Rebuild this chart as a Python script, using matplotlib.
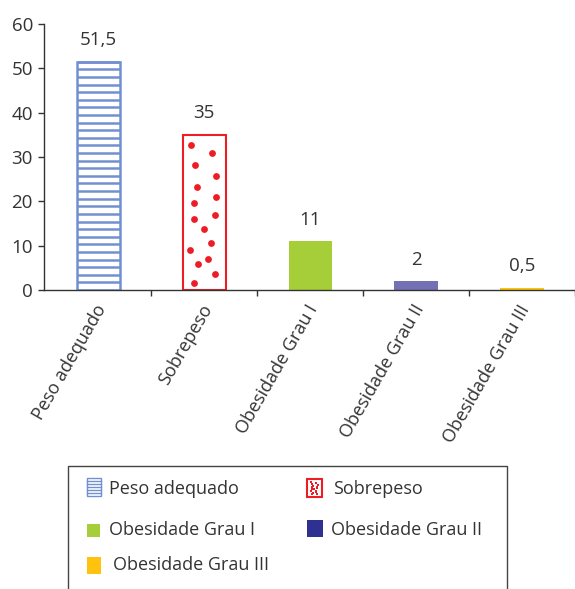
import numpy as np
import matplotlib
matplotlib.use("Agg")
import matplotlib.pyplot as plt
from matplotlib.patches import Rectangle

plt.rcParams['font.family'] = ['Open Sans', 'DejaVu Sans']

categories = ["Peso adequado", "Sobrepeso", "Obesidade Grau I",
              "Obesidade Grau II", "Obesidade Grau III"]
values = [51.5, 35, 11, 2, 0.5]
value_labels = ["51,5", "35", "11", "2", "0,5"]
y_ticks = [0, 10, 20, 30, 40, 50, 60]

legend_labels = ["Peso adequado", "Sobrepeso", "Obesidade Grau I",
                 "Obesidade Grau II", "Obesidade Grau III"]

BLUE = "#7190d0"
RED = "#ee1c25"
GREEN = "#a6ce39"
PURPLE = "#7470b4"
NAVY = "#2e3192"
YELLOW = "#ffc20e"
TEXT = "#333333"

# dot pattern used to fill the "Sobrepeso" bar (fractions of bar width / height)
dot_pattern_x = [0.185, 0.674, 0.289, 0.778, 0.333, 0.770, 0.259, 0.741,
                 0.267, 0.496, 0.644, 0.178, 0.593, 0.348, 0.741, 0.267]
dot_pattern_y = [0.936, 0.885, 0.803, 0.733, 0.662, 0.598, 0.560, 0.483,
                 0.455, 0.393, 0.303, 0.259, 0.201, 0.167, 0.103, 0.047]

W, H = 575, 589
fig = plt.figure(figsize=(W / 100, H / 100), dpi=100)

left_px, right_px, top_px, zero_px = 44, 575, 24, 290
first_edge_px = 45.5
cat_px = 108.3
ax = fig.add_axes([left_px / W, 1 - zero_px / H,
                   (right_px - left_px) / W, (zero_px - top_px) / H])

x = np.arange(len(categories))
bar_w = 0.41
bars = ax.bar(x, values, width=bar_w, zorder=2)

# Peso adequado: outlined bar with horizontal lines
b0 = bars[0]
b0.set_facecolor("white")
b0.set_edgecolor(BLUE)
b0.set_linewidth(1.8)
step = 1.716
for yy in np.arange(step, values[0], step):
    ax.plot([b0.get_x(), b0.get_x() + b0.get_width()], [yy, yy],
            color=BLUE, lw=1.8, zorder=3, solid_capstyle="butt")

# Sobrepeso: outlined bar with red dots
b1 = bars[1]
b1.set_facecolor("white")
b1.set_edgecolor(RED)
b1.set_linewidth(1.5)
dx = b1.get_x() + np.array(dot_pattern_x) * b1.get_width()
dy = np.array(dot_pattern_y) * values[1]
ax.scatter(dx, dy, s=24, color=RED, zorder=3, linewidths=0)

for b, c in zip(bars[2:], [GREEN, PURPLE, YELLOW]):
    b.set_facecolor(c)
    b.set_edgecolor("none")

for xi, v, lab in zip(x, values, value_labels):
    ax.annotate(lab, (xi, v), xytext=(0, 15.5), textcoords="offset points",
                ha="center", va="center", fontsize=13.5, color=TEXT)

x_lo = -0.5 - (first_edge_px - left_px) / cat_px
ax.set_ylim(0, 60)
ax.set_xlim(x_lo, x_lo + (right_px - left_px) / cat_px)
ax.set_yticks(y_ticks)
ax.set_yticklabels([str(t) for t in y_ticks], fontsize=13.5, color=TEXT)
ax.tick_params(axis="y", direction="out", length=4, width=1, color="#333333", pad=4)

ax.set_xticks(np.arange(len(categories)) + 0.5)
ax.set_xticklabels([])
ax.tick_params(axis="x", direction="out", length=4, width=1, color="#333333")
for xi, lab in zip(x, categories):
    ax.text(xi - 0.04, -2.6, lab, rotation=60, rotation_mode="anchor",
            ha="right", va="top", fontsize=13, color=TEXT)

for s in ["top", "right"]:
    ax.spines[s].set_visible(False)
for s in ["left", "bottom"]:
    ax.spines[s].set_color("#333333")
    ax.spines[s].set_linewidth(1)

# legend panel
def fx(px):
    return px / W


def fy(py):
    return 1 - py / H


fig.patches.append(Rectangle((fx(68), fy(600)), fx(507) - fx(68), fy(466) - fy(600),
                             transform=fig.transFigure, facecolor="white",
                             edgecolor="#444444", lw=1.0))

# handle: lined box
hx0, hx1, hy0, hy1 = 87, 101, 478, 496
fig.patches.append(Rectangle((fx(hx0), fy(hy1)), fx(hx1) - fx(hx0), fy(hy0) - fy(hy1),
                             transform=fig.transFigure, facecolor="white",
                             edgecolor=BLUE, lw=1.0))
for py in np.arange(hy0 + 3, hy1, 3):
    fig.lines.append(plt.Line2D([fx(hx0), fx(hx1)], [fy(py), fy(py)],
                                transform=fig.transFigure, color=BLUE, lw=1.0))

# handle: dotted box
sx0, sx1, sy0, sy1 = 307, 322, 479, 497
fig.patches.append(Rectangle((fx(sx0), fy(sy1)), fx(sx1) - fx(sx0), fy(sy0) - fy(sy1),
                             transform=fig.transFigure, facecolor="white",
                             edgecolor=RED, lw=1.5))
hdx = [fx(sx0 + 2 + px * (sx1 - sx0 - 4)) for px in dot_pattern_x]
hdy = [fy(sy1 - 2 - py * (sy1 - sy0 - 4)) for py in dot_pattern_y]
fig.lines.append(plt.Line2D(hdx, hdy, transform=fig.transFigure, ls="none",
                            marker="s", ms=1.6, color=RED, mew=0))

# solid handles
for (x0, x1, y0, y1), c in [((87, 100, 524, 537), GREEN),
                            ((307, 323, 520, 537), NAVY),
                            ((87, 101, 557, 574), YELLOW)]:
    fig.patches.append(Rectangle((fx(x0), fy(y1)), fx(x1) - fx(x0), fy(y0) - fy(y1),
                                 transform=fig.transFigure, facecolor=c,
                                 edgecolor="none"))

legend_pos = [(109, 489), (333, 489), (109, 530), (331, 530), (113, 565)]
for lab, (px, py) in zip(legend_labels, legend_pos):
    fig.text(fx(px), fy(py), lab, ha="left", va="center", fontsize=13, color=TEXT)

fig.savefig("out.png", dpi=100)
